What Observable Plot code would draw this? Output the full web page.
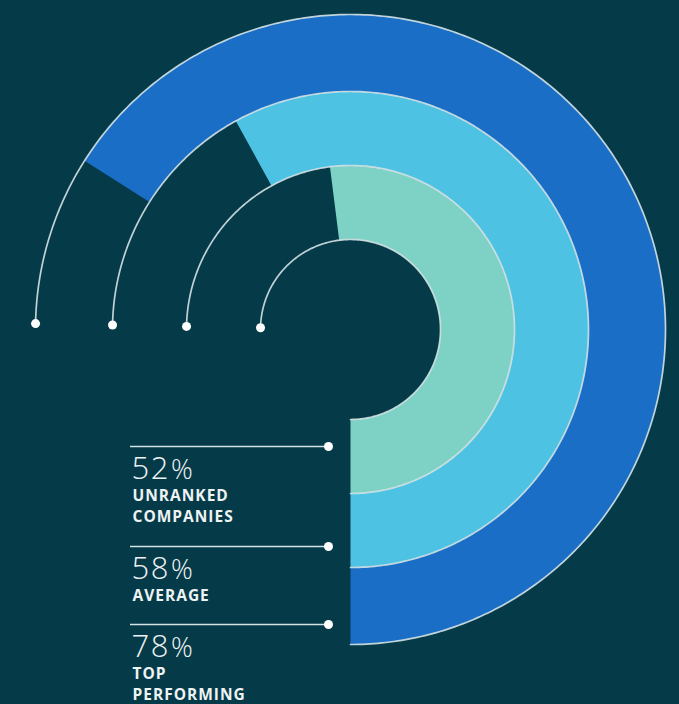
<!DOCTYPE html>
<html><head><meta charset="utf-8">
<script src="https://cdn.jsdelivr.net/npm/d3@7"></script>
<script src="https://cdn.jsdelivr.net/npm/@observablehq/plot@0.6"></script>
<style>
html,body{margin:0;padding:0;background:#053a48;}
#chart{width:679px;height:704px;overflow:hidden;}
</style></head><body><div id="chart"></div>
<script>
// ---------- data ----------
const categories = ["Unranked companies", "Average", "Top performing"];
const labelLines = [["UNRANKED", "COMPANIES"], ["AVERAGE"], ["TOP", "PERFORMING"]];
const shares = [52, 58, 78];          // printed percentages
const drawnSweep = [52, 58, 66];      // arc sweep as drawn in the picture (% of a full turn)
const ringColors = ["#7dd2c5", "#4ec2e3", "#1a6ec6"];

// ---------- layout ----------
const radii = [90, 164, 238, 315];    // ring boundaries (chart units)
const guideEnd = 74.7;                // guide circles run to about 9 o'clock (% of turn)
const angle = d3.scaleLinear([0, 100], [0, 2 * Math.PI]);
const polar = (r, pct) => ({x: r * Math.sin(angle(pct)), y: -r * Math.cos(angle(pct))});
function arc(r, from, to, step = 0.2) {
  const n = Math.max(2, Math.ceil(Math.abs(to - from) / step));
  return d3.range(n + 1).map(i => polar(r, from + (to - from) * i / n));
}

const ringPts = categories.flatMap((c, i) => {
  const outer = arc(radii[i + 1], 0, drawnSweep[i]);
  const inner = arc(radii[i], drawnSweep[i], 0);
  return [...outer, ...inner].map(p => ({...p, cat: c}));
});
const guidePts = radii.flatMap((r, k) => arc(r, 0, guideEnd).map(p => ({...p, k})));
const guideDots = radii.map(r => polar(r, guideEnd));

const ruleY = [-117, -217, -295];
const ruleX1 = -220, ruleX2 = -22;
const rows = categories.map((c, i) => ({cat: c, share: shares[i], lines: labelLines[i], ry: ruleY[i]}));
const pctRows = rows.map(d => ({text: d.share + "%", y: d.ry - 32}));
const lineRows = rows.flatMap(d => d.lines.map((t, j) => ({text: t, y: d.ry - 54 - 21 * j})));

const lineColor = "#d4e2e4";

const chart = Plot.plot({
  width: 679, height: 704, margin: 0,
  x: {domain: [-350, 329], range: [0, 679], axis: null},
  y: {domain: [-375, 329], range: [704, 0], axis: null},
  style: {background: "#053a48", overflow: "visible"},
  marks: [
    ...categories.map((c, i) => Plot.line(ringPts.filter(d => d.cat === c), {
      x: "x", y: "y", fill: ringColors[i], stroke: "none", curve: "linear-closed"
    })),
    Plot.line(guidePts, {x: "x", y: "y", z: "k", stroke: lineColor, strokeWidth: 1.7, strokeOpacity: 0.9}),
    Plot.dot(guideDots, {x: "x", y: "y", r: 4.5, fill: "#ffffff", stroke: "none"}),
    Plot.ruleY(rows, {y: "ry", x1: ruleX1, x2: ruleX2, stroke: lineColor, strokeWidth: 1.7}),
    Plot.dot(rows, {x: () => ruleX2, y: "ry", r: 4.5, fill: "#ffffff", stroke: "none"}),
    Plot.text(pctRows, {x: () => ruleX1 + 1, y: "y", text: "text", textAnchor: "start", lineAnchor: "bottom",
      fill: "#eef3f4", fontSize: 31, fontWeight: 300, fontFamily: "Open Sans", className: "pct"}),
    Plot.text(lineRows, {x: () => ruleX1 + 2, y: "y", text: "text", textAnchor: "start", lineAnchor: "bottom",
      fill: "#eef3f4", fontSize: 15.5, fontWeight: 700, fontFamily: "Open Sans", className: "lbl"})
  ]
});
document.getElementById("chart").appendChild(chart);

// smaller, wider percent sign like the reference
chart.querySelectorAll("g.pct text").forEach(t => {
  const s = t.textContent;
  t.textContent = s.replace("%", "");
  t.setAttribute("letter-spacing", "1.5");
  const ts = document.createElementNS("http://www.w3.org/2000/svg", "tspan");
  ts.setAttribute("font-size", "27");
  ts.setAttribute("dx", "1");
  ts.textContent = "%";
  t.appendChild(ts);
});
chart.querySelectorAll("g.lbl text").forEach(t => t.setAttribute("letter-spacing", "1.0"));
</script>
</body></html>
